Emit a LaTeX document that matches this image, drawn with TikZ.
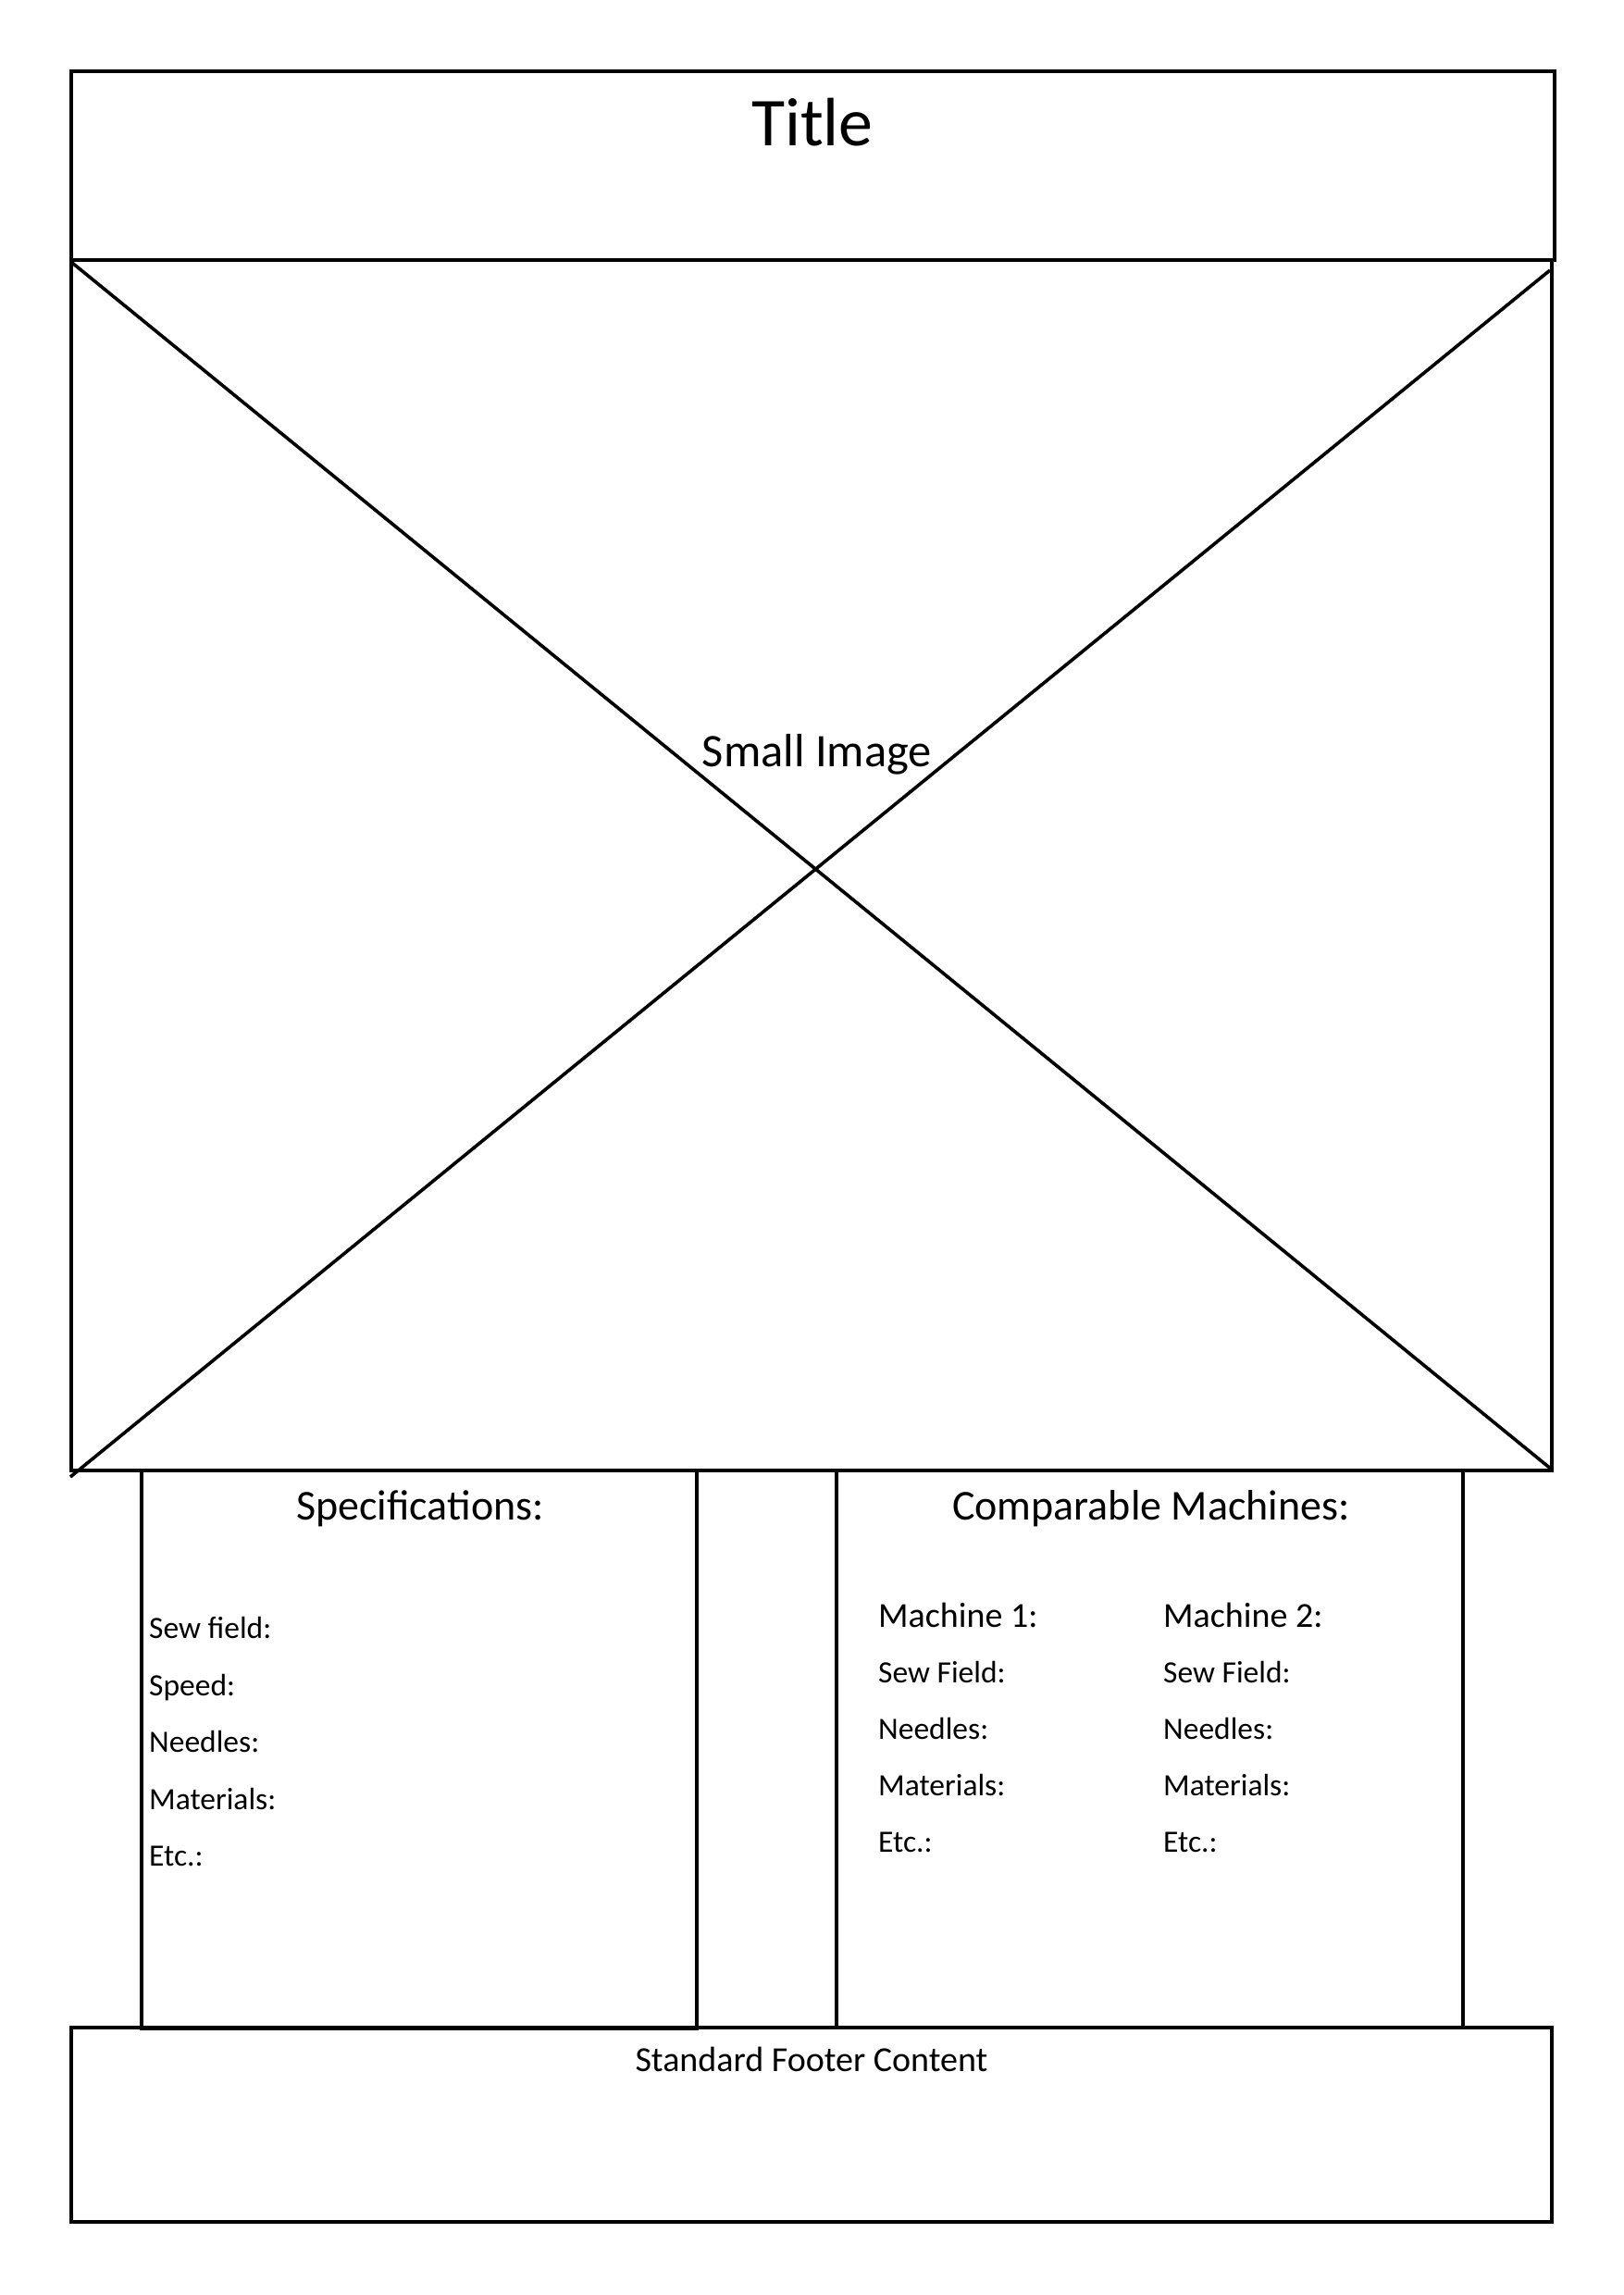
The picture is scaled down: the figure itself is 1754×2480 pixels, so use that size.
\documentclass[tikz,border=0pt]{standalone}
\usepackage{fontspec}
\setmainfont{Carlito}
\begin{document}
\begin{tikzpicture}[x=1pt,y=-1pt,
  panel/.style={draw=black,line width=4pt},
  cross/.style={draw=black,line width=3.6pt},
  txt/.style={inner sep=0pt,text=black},
  fs/.style={font=\fontsize{#1}{#1}\selectfont}]
\useasboundingbox[fill=white] (0,0) rectangle (1754,2480);

% page frames
\draw[panel] (77,77) rectangle (1680,281);
\draw[panel] (77,281) rectangle (1677,1589);
\draw[panel] (153,1589) rectangle (753,2192);
\draw[panel] (904,1589) rectangle (1581,2191);
\draw[panel] (77,2191) rectangle (1677,2401);

% placeholder cross for the picture area
\coordinate (tl) at (78,284);
\coordinate (br) at (1677,1588);
\coordinate (tr) at (1675,292);
\coordinate (bl) at (76,1596);
\draw[cross] (tl) -- (br);
\draw[cross] (tr) -- (bl);

% headings
\node[txt,fs=74,anchor=base] (title) at (878,158) {Title};
\node[txt,fs=50.5,anchor=base] (img) at (883,828) {Small Image};
\node[txt,fs=46,anchor=base] (spec) at (454,1642) {Specifications:};
\node[txt,fs=46,anchor=base] (comp) at (1244,1642) {Comparable Machines:};

% specification list
\node[txt,fs=33.5,anchor=base west] (s1) at (161,1770) {Sew field:};
\node[txt,fs=33.5,anchor=base west] (s2) at (161,1832) {Speed:};
\node[txt,fs=33.5,anchor=base west] (s3) at (161,1893) {Needles:};
\node[txt,fs=33.5,anchor=base west] (s4) at (161,1955) {Materials:};
\node[txt,fs=33.5,anchor=base west] (s5) at (161,2016) {Etc.:};

% machine columns
\node[txt,fs=38,anchor=base west] (m1) at (949,1758) {Machine 1:};
\node[txt,fs=33.5,anchor=base west] (m1a) at (949,1818) {Sew Field:};
\node[txt,fs=33.5,anchor=base west] (m1b) at (949,1879) {Needles:};
\node[txt,fs=33.5,anchor=base west] (m1c) at (949,1940) {Materials:};
\node[txt,fs=33.5,anchor=base west] (m1d) at (949,2001) {Etc.:};

\node[txt,fs=38,anchor=base west] (m2) at (1257,1758) {Machine 2:};
\node[txt,fs=33.5,anchor=base west] (m2a) at (1257,1818) {Sew Field:};
\node[txt,fs=33.5,anchor=base west] (m2b) at (1257,1879) {Needles:};
\node[txt,fs=33.5,anchor=base west] (m2c) at (1257,1940) {Materials:};
\node[txt,fs=33.5,anchor=base west] (m2d) at (1257,2001) {Etc.:};

% footer
\node[txt,fs=38,anchor=base] (foot) at (877,2238) {Standard Footer Content};
\end{tikzpicture}
\end{document}
